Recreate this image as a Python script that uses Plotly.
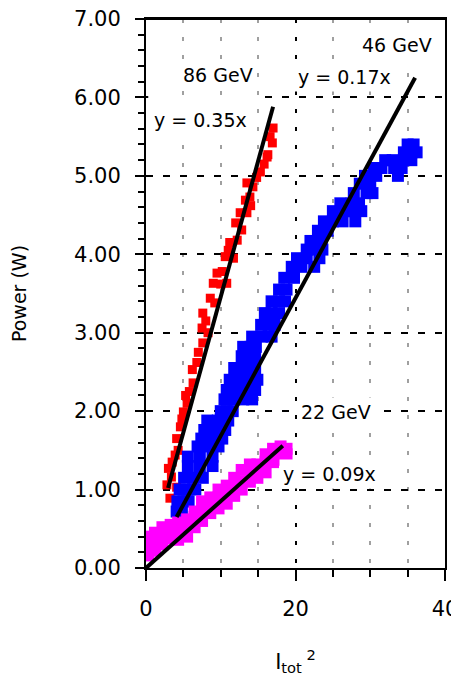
import plotly.graph_objects as go

# ---------------- data ----------------
# 86 GeV (red)
red_x = [17.0, 16.9, 16.2, 15.3, 14.3, 13.5, 13.9, 13.3, 13.5, 12.6, 12.8, 12.2, 11.2, 11.7, 10.6,
         10.2, 10.8, 9.0, 8.6, 9.2, 7.6, 7.5, 8.3, 7.6, 6.2, 6.3, 5.0, 5.5, 4.6, 4.1, 3.9, 3.0,
         2.8, 3.2, 4.1, 4.3, 9.5, 16.3, 15.8, 14.8, 12.0, 11.0, 10.0, 8.0, 7.0, 6.8, 5.8, 5.3,
         4.8, 3.5, 3.4, 14.0, 16.6]
red_y = [5.61, 5.42, 5.24, 5.05, 4.86, 4.91, 4.73, 4.69, 4.53, 4.53, 4.31, 4.18, 4.15, 3.95, 3.97,
         3.78, 3.63, 3.63, 3.44, 3.38, 3.25, 3.06, 3.00, 2.87, 2.53, 2.36, 1.99, 2.10, 1.80, 1.65,
         1.44, 1.27, 1.06, 0.89, 1.03, 1.50, 3.76, 5.27, 5.15, 4.98, 4.40, 4.05, 3.62, 3.15, 2.75,
         2.62, 2.25, 2.20, 1.90, 1.35, 1.16, 4.62, 5.50]

# 46 GeV (blue)
blue_x = [4.1, 4.8,
          4.2, 5.0, 5.7,
          4.5, 5.5, 6.6,
          5.1, 6.3, 7.6,
          5.6, 7.2, 8.9,
          5.6, 7.2, 8.9,
          6.9, 8.3, 9.7,
          7.4, 8.8, 10.2,
          7.8, 9.2, 10.6,
          8.2, 9.6, 11.0,
          10.0, 10.8, 11.6,
          10.5, 11.8, 13.0, 14.2,
          10.8, 12.0, 13.3, 14.6,
          11.2, 12.5, 13.8, 14.9,
          11.8, 13.0, 14.0, 14.6,
          12.8, 13.8, 14.6,
          13.0, 14.0, 14.7,
          14.2, 15.5, 16.8,
          15.4, 16.4, 17.2,
          15.9, 16.8, 17.8,
          16.8, 17.8, 18.6,
          17.8, 18.8,
          18.5, 19.8,
          19.5, 20.8, 22.5,
          20.2, 21.5, 23.2,
          21.5, 22.8, 23.6,
          22.0, 23.5,
          23.0, 24.3,
          23.8, 25.0, 26.3, 28.0,
          25.0, 26.5, 27.8, 28.8,
          26.0, 27.5, 28.5,
          27.8, 29.5, 30.3,
          28.6, 30.0,
          29.3, 30.8, 33.7,
          30.5, 31.5, 33.2, 34.2,
          32.0, 33.0, 34.5, 35.5,
          34.5, 35.5, 36.2,
          35.0, 35.8]
blue_y = [0.72, 0.72,
          0.85, 0.85, 0.85,
          1.00, 1.00, 1.00,
          1.15, 1.15, 1.15,
          1.30, 1.30, 1.30,
          1.42, 1.42, 1.42,
          1.55, 1.55, 1.55,
          1.65, 1.65, 1.65,
          1.76, 1.76, 1.76,
          1.88, 1.88, 1.88,
          2.00, 2.00, 2.00,
          2.15, 2.15, 2.15, 2.15,
          2.27, 2.27, 2.27, 2.27,
          2.40, 2.40, 2.40, 2.40,
          2.55, 2.55, 2.55, 2.55,
          2.70, 2.70, 2.70,
          2.82, 2.82, 2.82,
          2.95, 2.95, 2.95,
          3.10, 3.10, 3.10,
          3.25, 3.25, 3.25,
          3.40, 3.40, 3.40,
          3.55, 3.55,
          3.70, 3.70,
          3.84, 3.84, 3.84,
          3.95, 3.95, 3.95,
          4.06, 4.06, 4.06,
          4.17, 4.17,
          4.30, 4.30,
          4.42, 4.42, 4.42, 4.42,
          4.55, 4.55, 4.55, 4.55,
          4.65, 4.65, 4.65,
          4.78, 4.78, 4.78,
          4.90, 4.90,
          5.00, 5.00, 5.00,
          5.10, 5.10, 5.10, 5.10,
          5.20, 5.20, 5.20, 5.20,
          5.30, 5.30, 5.30,
          5.40, 5.40]

# 22 GeV (magenta)
mag_x = [0.3, 0.3, 0.3, 1.2, 1.2, 1.2, 2.2, 2.2, 2.2, 3.3, 3.3, 3.3, 4.3, 4.3, 4.3,
         5.5, 5.5, 5.5, 6.5, 6.5, 6.5, 7.5, 7.5, 7.5, 8.6, 8.6, 8.6, 9.7, 9.7, 9.7,
         10.8, 10.8, 10.8, 11.8, 11.8, 11.8, 12.8, 12.8, 12.8, 13.9, 13.9, 13.9,
         14.9, 14.9, 14.9, 16.0, 16.0, 16.0, 17.0, 17.0, 17.0, 18.0, 18.0, 18.0, 18.8, 18.8]
mag_y = [0.16, 0.28, 0.40, 0.22, 0.35, 0.45, 0.30, 0.42, 0.52, 0.38, 0.50, 0.55, 0.36, 0.48, 0.58,
         0.40, 0.52, 0.62, 0.52, 0.65, 0.72, 0.60, 0.72, 0.85, 0.70, 0.82, 0.90, 0.76, 0.90, 1.00,
         0.82, 0.95, 1.05, 0.92, 1.03, 1.15, 1.00, 1.10, 1.25, 1.10, 1.20, 1.32,
         1.15, 1.28, 1.32, 1.22, 1.35, 1.45, 1.35, 1.45, 1.52, 1.38, 1.50, 1.55, 1.45, 1.52]

# fitted lines (end points)
fit86_x = [2.95, 17.0]
fit86_y = [1.02, 5.88]
fit46_x = [4.1, 36.0]
fit46_y = [0.65, 6.25]
fit22_x = [0.0, 18.3]
fit22_y = [0.0, 1.56]

# labels
label_text = ["86 GeV", "y = 0.35x", "46 GeV", "y = 0.17x", "22 GeV", "y = 0.09x"]
label_x = [9.64, 7.23, 33.6, 26.5, 25.4, 24.5]
label_y = [6.29, 5.71, 6.67, 6.26, 1.99, 1.20]

FONT = "DejaVu Sans"

fig = go.Figure()
fig.add_trace(go.Scatter(x=red_x, y=red_y, mode="markers",
                         marker=dict(symbol="square", size=9, color="#FF0000"), name="86 GeV"))
fig.add_trace(go.Scatter(x=blue_x, y=blue_y, mode="markers",
                         marker=dict(symbol="square", size=12, color="#0000FF"), name="46 GeV"))
fig.add_trace(go.Scatter(x=mag_x, y=mag_y, mode="markers",
                         marker=dict(symbol="square", size=12, color="#FF00FF"), name="22 GeV"))
for fx, fy in [(fit86_x, fit86_y), (fit46_x, fit46_y), (fit22_x, fit22_y)]:
    fig.add_trace(go.Scatter(x=fx, y=fy, mode="lines", line=dict(color="black", width=4),
                             showlegend=False))

for t, x, y in zip(label_text, label_x, label_y):
    fig.add_annotation(x=x, y=y, text=t, showarrow=False, bgcolor="white", borderpad=3,
                       font=dict(family=FONT, size=19, color="black"))

# cover grid line segment and right border piece hidden by text boxes in the original
fig.add_shape(type="line", x0=0.3, x1=15.2, y0=6, y1=6, line=dict(color="white", width=4),
              layer="between")
fig.add_shape(type="line", x0=40, x1=40, y0=6.36, y1=6.9, line=dict(color="white", width=5),
              layer="above")
# top frame line
fig.add_shape(type="line", xref="paper", yref="paper", x0=0, x1=1, y0=1, y1=1,
              line=dict(color="black", width=2), layer="above")

# page body has an 8px default margin, so the figure is sized to fit inside the window
fig.update_layout(
    width=451, height=673,
    margin=dict(l=138, r=14, t=11, b=113, autoexpand=False),
    paper_bgcolor="white", plot_bgcolor="white",
    showlegend=False,
    font=dict(family=FONT, color="black"),
)
fig.update_xaxes(
    range=[0, 40], dtick=20, tick0=0, automargin=False, ticklabeloverflow="allow",
    showline=True, linecolor="black", linewidth=2, mirror=True,
    ticks="outside", ticklen=11, tickwidth=2, tickcolor="black",
    tickfont=dict(family=FONT, size=21, color="black"),
    ticklabelstandoff=10,
    showgrid=True, gridcolor="black", gridwidth=2, griddash="4px,14px",
    zeroline=False,
    minor=dict(dtick=5, ticks="outside", ticklen=7, tickwidth=2, tickcolor="black",
               showgrid=True, gridcolor="#A0A0A0", gridwidth=2, griddash="4px,14px"),
    title=dict(text="I<sub>tot</sub><sup> 2</sup>", font=dict(family=FONT, size=21, color="black"),
               standoff=34),
)
fig.update_yaxes(
    range=[0, 7], dtick=1, tick0=0, tickformat=".2f", automargin=False, ticklabeloverflow="allow",
    showline=True, linecolor="black", linewidth=2, mirror=True,
    ticks="outside", ticklen=9, tickwidth=2, tickcolor="black",
    tickfont=dict(family=FONT, size=21, color="black"),
    ticklabelstandoff=10,
    showgrid=True, gridcolor="black", gridwidth=2, griddash="7px,10px",
    zeroline=False,
    minor=dict(dtick=0.2, ticks="outside", ticklen=6, tickwidth=2, tickcolor="black",
               showgrid=False),
    title=dict(text="Power (W)", font=dict(family=FONT, size=19, color="black"), standoff=42),
)

fig.write_html("out.html")
